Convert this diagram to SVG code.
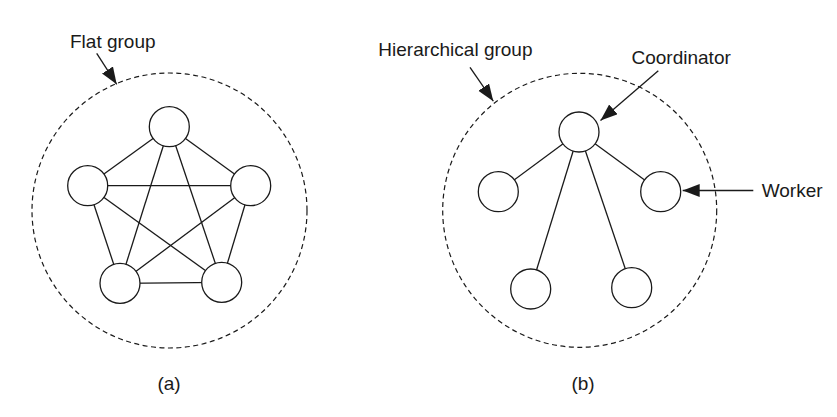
<svg xmlns="http://www.w3.org/2000/svg" width="837" height="417" viewBox="0 0 837 417">
<defs>
<marker id="ah" markerUnits="userSpaceOnUse" markerWidth="18" markerHeight="14" refX="17" refY="6.5" orient="auto">
<path d="M0,0 L17,6.5 L0,13 z" fill="#1a1a1a"/>
</marker>
<style>
.grp{fill:none;stroke:#1a1a1a;stroke-width:1.2;stroke-dasharray:5 3.5}
.node{fill:#fff;stroke:#1a1a1a;stroke-width:1.3}
.edge{stroke:#1a1a1a;stroke-width:1.3;fill:none}
.ptr{stroke:#1a1a1a;stroke-width:1.3;fill:none;marker-end:url(#ah)}
text{font-family:"Liberation Sans",Arial,sans-serif;font-size:19px;fill:#1a1a1a}
</style>
</defs>
<rect width="837" height="417" fill="#fff"/>

<g id="group-a">
<circle class="grp" cx="169.5" cy="210.5" r="137.5"/>
</g>
<g id="group-b">
<circle class="grp" cx="579.7" cy="210.3" r="137"/>
</g>

<g id="connectors">
<!-- flat group: complete graph -->
<line class="edge" x1="169.3" y1="126.7" x2="87.7" y2="185.7"/>
<line class="edge" x1="169.3" y1="126.7" x2="250.7" y2="185.7"/>
<line class="edge" x1="169.3" y1="126.7" x2="120" y2="283.3"/>
<line class="edge" x1="169.3" y1="126.7" x2="221.7" y2="282.3"/>
<line class="edge" x1="87.7" y1="185.7" x2="250.7" y2="185.7"/>
<line class="edge" x1="87.7" y1="185.7" x2="120" y2="283.3"/>
<line class="edge" x1="87.7" y1="185.7" x2="221.7" y2="282.3"/>
<line class="edge" x1="250.7" y1="185.7" x2="120" y2="283.3"/>
<line class="edge" x1="250.7" y1="185.7" x2="221.7" y2="282.3"/>
<line class="edge" x1="120" y1="283.3" x2="221.7" y2="282.3"/>
<!-- hierarchical group -->
<line class="edge" x1="579" y1="132" x2="498.3" y2="191.7"/>
<line class="edge" x1="579" y1="132" x2="660.7" y2="191.7"/>
<line class="edge" x1="579" y1="132" x2="530.7" y2="289"/>
<line class="edge" x1="579" y1="132" x2="631.7" y2="287.7"/>
<!-- label pointers -->
<line class="ptr" x1="96.7" y1="53.3" x2="116.7" y2="84.3"/>
<line class="ptr" x1="470" y1="67.3" x2="493.3" y2="101.2"/>
<line class="ptr" x1="658.3" y1="70.7" x2="600.5" y2="120.5"/>
<line class="ptr" x1="753.3" y1="190.5" x2="682.7" y2="190.5"/>
</g>

<g id="flat-n1"><circle class="node" cx="169.3" cy="126.7" r="20"/></g>
<g id="flat-n2"><circle class="node" cx="87.7" cy="185.7" r="20"/></g>
<g id="flat-n3"><circle class="node" cx="250.7" cy="185.7" r="20"/></g>
<g id="flat-n4"><circle class="node" cx="120" cy="283.3" r="20"/></g>
<g id="flat-n5"><circle class="node" cx="221.7" cy="282.3" r="20"/></g>

<g id="coordinator"><circle class="node" cx="579" cy="132" r="20"/></g>
<g id="worker-1"><circle class="node" cx="498.3" cy="191.7" r="20"/></g>
<g id="worker-2"><circle class="node" cx="660.7" cy="191.7" r="20"/></g>
<g id="worker-3"><circle class="node" cx="530.7" cy="289" r="20"/></g>
<g id="worker-4"><circle class="node" cx="631.7" cy="287.7" r="20"/></g>

<g id="labels">
<text x="70" y="47.5">Flat group</text>
<text x="378.3" y="56">Hierarchical group</text>
<text x="631.5" y="64">Coordinator</text>
<text x="761.7" y="196.5">Worker</text>
<text x="169" y="390" text-anchor="middle">(a)</text>
<text x="583" y="390" text-anchor="middle">(b)</text>
</g>
</svg>
